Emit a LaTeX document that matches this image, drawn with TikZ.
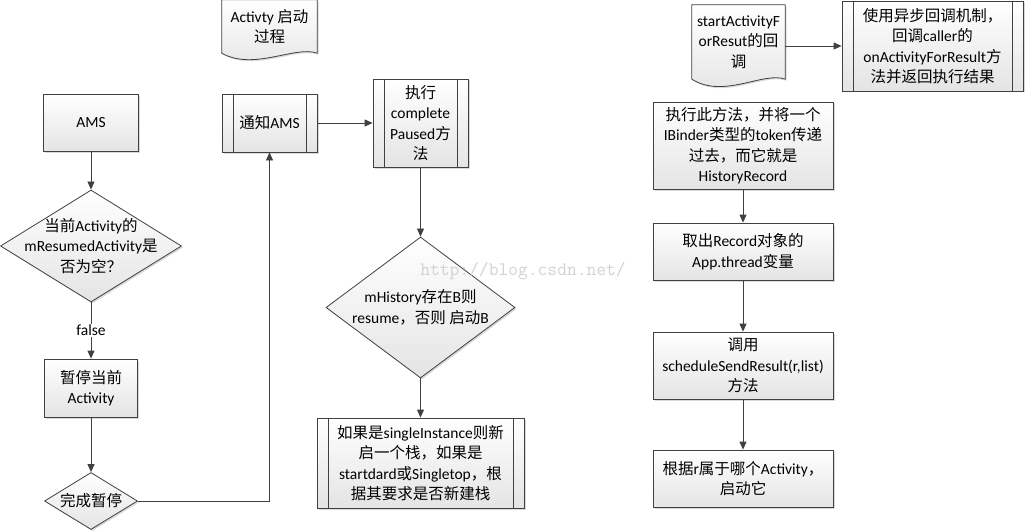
\documentclass[tikz,border=0pt]{standalone}
\usepackage{fontspec}
\setmainfont{Carlito}
\newfontfamily\cjkfont{Noto Sans CJK SC}
\newfontfamily\latinfont{Carlito}
\usetikzlibrary{arrows.meta,shapes.geometric,shadows,backgrounds}

% switch to the CJK font for Chinese characters
\XeTeXinterchartokenstate=1
\newXeTeXintercharclass\cjkcls
\count255="3000
\loop \XeTeXcharclass\count255=\cjkcls\relax
  \ifnum\count255<"9FFF \advance\count255 by 1 \repeat
\count255="FF00
\loop \XeTeXcharclass\count255=\cjkcls\relax
  \ifnum\count255<"FFEF \advance\count255 by 1 \repeat
\XeTeXinterchartoks 0 \cjkcls = {\cjkfont}
\XeTeXinterchartoks 4095 \cjkcls = {\cjkfont}
\XeTeXinterchartoks \cjkcls 0 = {\latinfont}
\XeTeXinterchartoks \cjkcls 4095 = {\latinfont}

\definecolor{linec}{HTML}{404040}
\definecolor{boxbot}{HTML}{E4E4E4}
\definecolor{wmark}{HTML}{D2D2D2}
\newcommand\lbl{\fontsize{15.5}{20.5}\selectfont}
\newcommand\wavydoc[3]{%
  \draw[docline] (#1.north west) -- (#1.north east) -- (#1.south east)
    .. controls +(-22,-8) and +(#2,#3) .. (#1.south west) -- cycle;}

\begin{document}
\begin{tikzpicture}[x=1pt,y=-1pt,
      box/.style={draw=linec, line width=0.8pt, top color=white, bottom color=boxbot,
        drop shadow={shadow xshift=1.5pt, shadow yshift=-1.5pt, opacity=.3},
        align=center, font=\lbl, inner sep=2pt},
      proc/.style={box, path picture={
        \draw[linec, line width=0.8pt]
          ([xshift=11pt]path picture bounding box.north west) -- ([xshift=11pt]path picture bounding box.south west)
          ([xshift=-11pt]path picture bounding box.north east) -- ([xshift=-11pt]path picture bounding box.south east);}},
      dec/.style={box, diamond, inner sep=0pt},
      doc/.style={align=center, font=\lbl, inner sep=0pt},
      docline/.style={draw=linec, line width=0.8pt, top color=white, bottom color=boxbot,
        drop shadow={shadow xshift=1.5pt, shadow yshift=-1.5pt, opacity=.3}},
      flow/.style={draw=linec, line width=0.8pt, -{Triangle[length=8pt,width=7pt]}}]
    \useasboundingbox (0,0) rectangle (1025,532);

    % left column
    \node[box, minimum width=95pt, minimum height=57pt] (ams) at (91,123) {AMS};
    \node[dec, minimum width=181pt, minimum height=112pt,
          label={[font=\lbl, align=center]center:{当前Activity的\\mResumedActivity是\\否为空？}}]
          (check) at (91,246) {};
    \node[box, minimum width=93pt, minimum height=58pt] (pause) at (91,388) {暂停当前\\Activity};
    \node[dec, minimum width=93pt, minimum height=57pt,
          label={[font=\lbl]center:{完成暂停}}] (done) at (91,501) {};

    % middle column
    \node[doc, minimum width=95pt, minimum height=53pt] (title) at (269.5,26.5) {Activty 启动\\过程};
    \node[proc, minimum width=95pt, minimum height=58pt] (notify) at (269.5,123) {通知AMS};
    \node[proc, minimum width=95pt, minimum height=88pt] (exec) at (420.5,123) {执行\\complete\\Paused方\\法};
    \node[dec, minimum width=189pt, minimum height=141pt,
          label={[font=\lbl, align=center]center:{mHistory存在B则\\resume，否则 启动B}}]
          (decide) at (420.5,307.5) {};
    \node[proc, minimum width=207pt, minimum height=90pt] (stack) at (420.5,463)
          {如果是singleInstance则新\\启一个栈，如果是\\startdard或Singletop，根\\据其要求是否新建栈};

    % right column
    \node[doc, minimum width=93pt, minimum height=74pt] (cbdoc) at (738.5,42) {startActivityF\\orResut的回\\调};
    \node[proc, minimum width=181pt, minimum height=90pt] (callback) at (932.5,46)
          {使用异步回调机制，\\回调caller的\\onActivityForResult方\\法并返回执行结果};
    \node[box, minimum width=180pt, minimum height=87pt] (invoke) at (743,145.5)
          {执行此方法，并将一个\\IBinder类型的token传递\\过去，而它就是\\HistoryRecord};
    \node[box, minimum width=180pt, minimum height=57pt] (fetch) at (743,251.5) {取出Record对象的\\App.thread变量};
    \node[box, minimum width=180pt, minimum height=67pt] (sched) at (743,365.5) {调用\\scheduleSendResult(r,list)\\方法};
    \node[box, minimum width=180pt, minimum height=57pt] (launch) at (743,478.5) {根据r属于哪个Activity，\\启动它};

    % document outlines
    \begin{scope}[on background layer]
      \wavydoc{title}{32}{18}
      \wavydoc{cbdoc}{32}{20}
    \end{scope}

    % connectors
    \draw[flow] (ams) -- (check);
    \draw[flow] (check) -- node[fill=white, font=\lbl, inner sep=1pt] {false} (pause);
    \draw[flow] (pause) -- (done);
    \draw[flow] (done.east) -| (notify.south);
    \draw[flow] (notify) -- (exec);
    \draw[flow] (exec) -- (decide);
    \draw[flow] (decide) -- (stack);
    \draw[flow] (cbdoc.east |- callback.west) -- (callback.west);
    \draw[flow] (invoke) -- (fetch);
    \draw[flow] (fetch) -- (sched);
    \draw[flow] (sched) -- (launch);

    \node[font=\fontsize{19}{19}\selectfont\ttfamily, text=wmark] (wm) at (523,271) {http://blog.csdn.net/};
  \end{tikzpicture}
\end{document}
